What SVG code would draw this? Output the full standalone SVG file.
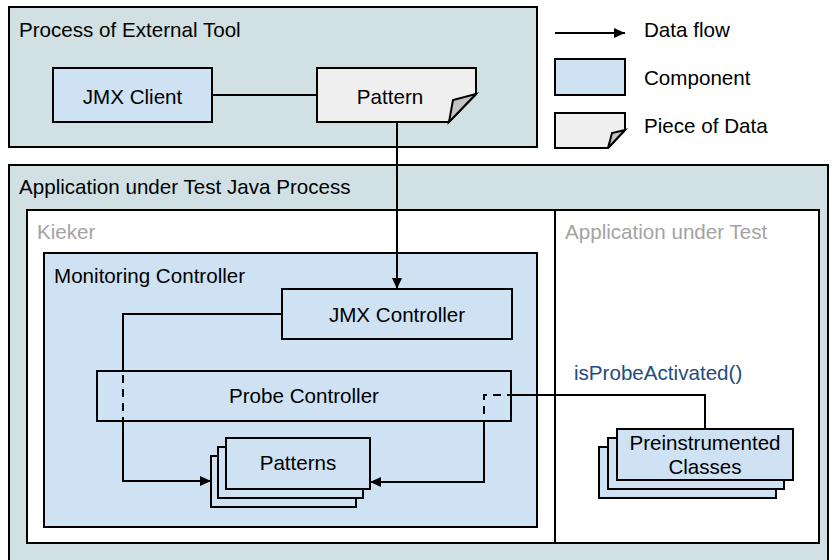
<svg xmlns="http://www.w3.org/2000/svg" width="838" height="560" viewBox="0 0 838 560">
<style>
text{font-family:"Liberation Sans",Arial,sans-serif;font-size:20.6px;fill:#000}
.c{text-anchor:middle}
.grey{fill:#a3a3a3}
.blue{fill:#234c7f}
.proc{fill:#d0e0e3;stroke:#000;stroke-width:2}
.white{fill:#fff;stroke:#000;stroke-width:2}
.comp{fill:#cfe2f3;stroke:#000;stroke-width:2}
.data{fill:#efefef;stroke:#000;stroke-width:2;stroke-linejoin:miter}
.fold{fill:#c4c4c4;stroke:#000;stroke-width:2;stroke-linejoin:miter}
.ln{fill:none;stroke:#000;stroke-width:2}
.dash{fill:none;stroke:#000;stroke-width:2;stroke-dasharray:8 6}
</style>
<defs>
<marker id="arr" markerUnits="userSpaceOnUse" markerWidth="12" markerHeight="10" refX="11" refY="5" orient="auto">
<path d="M0,0 L11,5 L0,10 z" fill="#000"/>
</marker>
</defs>

<g id="external-process">
<rect class="proc" x="9" y="7" width="528" height="140"/>
<text x="19" y="37">Process of External Tool</text>
</g>
<g id="jmx-client">
<rect class="comp" x="53" y="68" width="159" height="54"/>
<text class="c" x="132.5" y="104">JMX Client</text>
</g>
<g id="pattern">
<path class="data" d="M317 68 H476 V94 L449 122 H317 Z"/>
<path class="fold" d="M476 94 L453 100 L449 122 Z"/>
<text class="c" x="390" y="104">Pattern</text>
</g>

<g id="legend">
<line class="ln" x1="555" y1="33" x2="625" y2="33" marker-end="url(#arr)"/>
<text x="644" y="37">Data flow</text>
<rect class="comp" x="555" y="59" width="70" height="36"/>
<text x="644" y="85">Component</text>
<path class="data" d="M555 113 H625 V130 L608 148 H555 Z"/>
<path class="fold" d="M625 130 L612 133 L608 148 Z"/>
<text x="644" y="133">Piece of Data</text>
</g>

<g id="aut-process">
<rect class="proc" x="9" y="165" width="819" height="400"/>
<text x="19" y="194">Application under Test Java Process</text>
</g>
<g id="kieker">
<rect class="white" x="27" y="210" width="528" height="333"/>
<text class="grey" x="37" y="239">Kieker</text>
</g>
<g id="application-under-test">
<rect class="white" x="555" y="210" width="264" height="333"/>
<text class="grey" x="565" y="239">Application under Test</text>
</g>
<g id="monitoring-controller">
<rect class="comp" x="44" y="253" width="493" height="274"/>
<text x="54" y="283">Monitoring Controller</text>
</g>
<g id="jmx-controller">
<rect class="comp" x="282" y="289" width="230" height="50"/>
<text class="c" x="397" y="322">JMX Controller</text>
</g>
<g id="probe-controller">
<rect class="comp" x="97" y="371" width="414" height="50"/>
<text class="c" x="304" y="403">Probe Controller</text>
</g>
<g id="patterns">
<rect class="comp" x="211" y="456" width="145" height="51"/>
<rect class="comp" x="218" y="447" width="145" height="51"/>
<rect class="comp" x="226" y="438" width="144" height="51"/>
<text class="c" x="298" y="470">Patterns</text>
</g>
<g id="preinstrumented-classes">
<rect class="comp" x="599" y="447" width="177" height="51"/>
<rect class="comp" x="608" y="438" width="176" height="51"/>
<rect class="comp" x="617" y="429" width="176" height="51"/>
<text class="c" x="705" y="450">Preinstrumented</text>
<text class="c" x="705" y="474">Classes</text>
</g>

<g id="connectors">
<line class="ln" x1="212" y1="95" x2="317" y2="95"/>
<line class="ln" x1="397" y1="122" x2="397" y2="289" marker-end="url(#arr)"/>
<path class="ln" d="M282 314 H123 V371"/>
<path class="dash" d="M123 371 V421" stroke-dashoffset="-4"/>
<path class="ln" d="M123 421 V481 H211" marker-end="url(#arr)"/>
<path class="ln" d="M705 429 V395 H511"/>
<path class="dash" d="M511 395 H484 V421" stroke-dashoffset="4"/>
<path class="ln" d="M484 421 V482 H370" marker-end="url(#arr)"/>
<text class="blue" x="574" y="380">isProbeActivated()</text>
</g>
</svg>
